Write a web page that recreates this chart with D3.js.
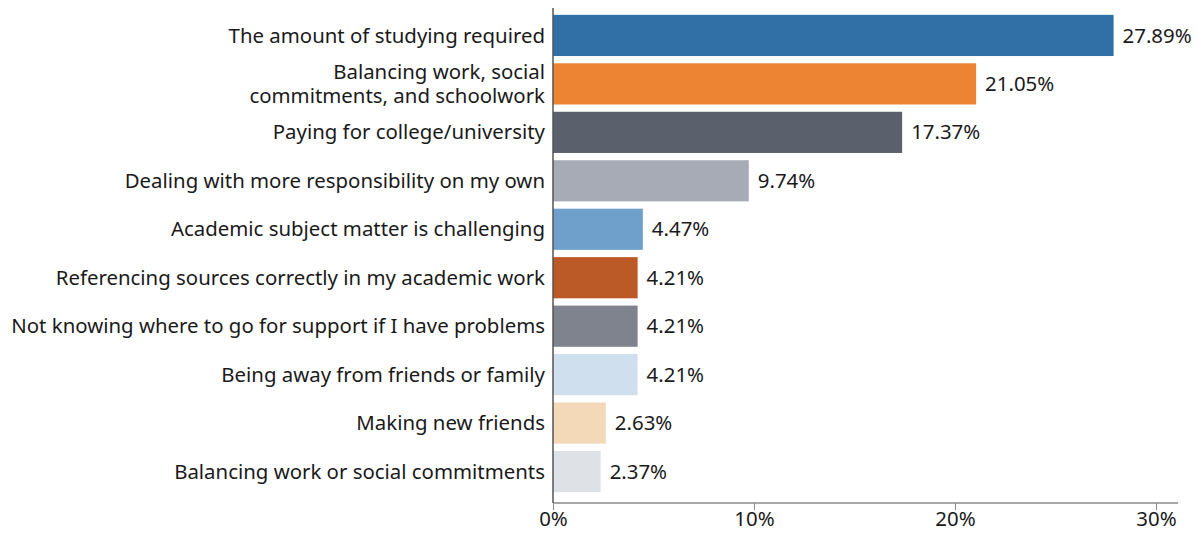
<!DOCTYPE html>
<html>
<head>
<meta charset="utf-8">
<script src="https://cdn.jsdelivr.net/npm/d3@7"></script>
<style>
  html, body { margin: 0; padding: 0; background: #fff; }
  svg { display: block; font-family: "Noto Sans", "Open Sans", sans-serif; }
</style>
</head>
<body>
<svg id="chart" width="1196" height="533"></svg>
<script>
// Challenges reported by students (share of responses, %)
const categories = [
  "The amount of studying required",
  "Balancing work, social\ncommitments, and schoolwork",
  "Paying for college/university",
  "Dealing with more responsibility on my own",
  "Academic subject matter is challenging",
  "Referencing sources correctly in my academic work",
  "Not knowing where to go for support if I have problems",
  "Being away from friends or family",
  "Making new friends",
  "Balancing work or social commitments"
];
const values = [27.89, 21.05, 17.37, 9.74, 4.47, 4.21, 4.21, 4.21, 2.63, 2.37];
const barColors = [
  "#3070a6", "#ed8434", "#5a606c", "#a6abb6", "#6fa0cb",
  "#bb5a27", "#7e838e", "#cfdfee", "#f4d9b9", "#dee1e5"
];
const xTicks = [0, 10, 20, 30];

const svg = d3.select("#chart");
const fontSize = 20.4;

const x = d3.scaleLinear().domain([0, 30]).range([553, 1156]);
const xEnd = x(31.1);
const y = d3.scaleBand()
  .domain(d3.range(categories.length))
  .range([10, 497])
  .paddingInner(0.15)
  .paddingOuter(0.1);
const axisY = 503;

// bars
svg.append("g").selectAll("rect")
  .data(values)
  .join("rect")
  .attr("x", x(0))
  .attr("y", (d, i) => y(i))
  .attr("width", d => x(d) - x(0))
  .attr("height", y.bandwidth())
  .attr("fill", (d, i) => barColors[i]);

// value labels
svg.append("g").selectAll("text")
  .data(values)
  .join("text")
  .attr("x", d => x(d) + 9)
  .attr("y", (d, i) => y(i) + y.bandwidth() / 2)
  .attr("dy", "0.35em")
  .attr("font-size", fontSize)
  .attr("fill", "#1a1a1a")
  .text(d => d.toFixed(2) + "%");

// category labels (right-aligned, multi-line where needed)
const catG = svg.append("g");
categories.forEach((c, i) => {
  const lines = c.split("\n");
  const lh = 24;
  const cy = y(i) + y.bandwidth() / 2;
  const t = catG.append("text")
    .attr("text-anchor", "end")
    .attr("font-size", fontSize)
    .attr("fill", "#1a1a1a");
  lines.forEach((ln, k) => {
    t.append("tspan")
      .attr("x", 545)
      .attr("y", cy + (k - (lines.length - 1) / 2) * lh)
      .attr("dy", "0.35em")
      .text(ln);
  });
});

// x axis
const xAxis = d3.axisBottom(x)
  .tickValues(xTicks)
  .tickSize(7)
  .tickFormat(d => d + "%");
const ax = svg.append("g")
  .attr("transform", `translate(0,${axisY})`)
  .call(xAxis);
ax.select(".domain").remove();
ax.append("line")
  .attr("x1", x(0)).attr("x2", xEnd)
  .attr("y1", 0).attr("y2", 0)
  .attr("stroke", "#8a8a8a").attr("stroke-width", 1.5);
ax.selectAll(".tick line").attr("stroke", "#8a8a8a");
ax.selectAll(".tick text")
  .attr("font-size", fontSize)
  .attr("font-family", "Noto Sans, sans-serif")
  .attr("fill", "#1a1a1a")
  .attr("y", 9)
  .attr("dy", "0.71em");

// left axis line
svg.append("line")
  .attr("x1", x(0)).attr("x2", x(0))
  .attr("y1", 8).attr("y2", axisY)
  .attr("stroke", "#555").attr("stroke-width", 1.5);
</script>
</body>
</html>
